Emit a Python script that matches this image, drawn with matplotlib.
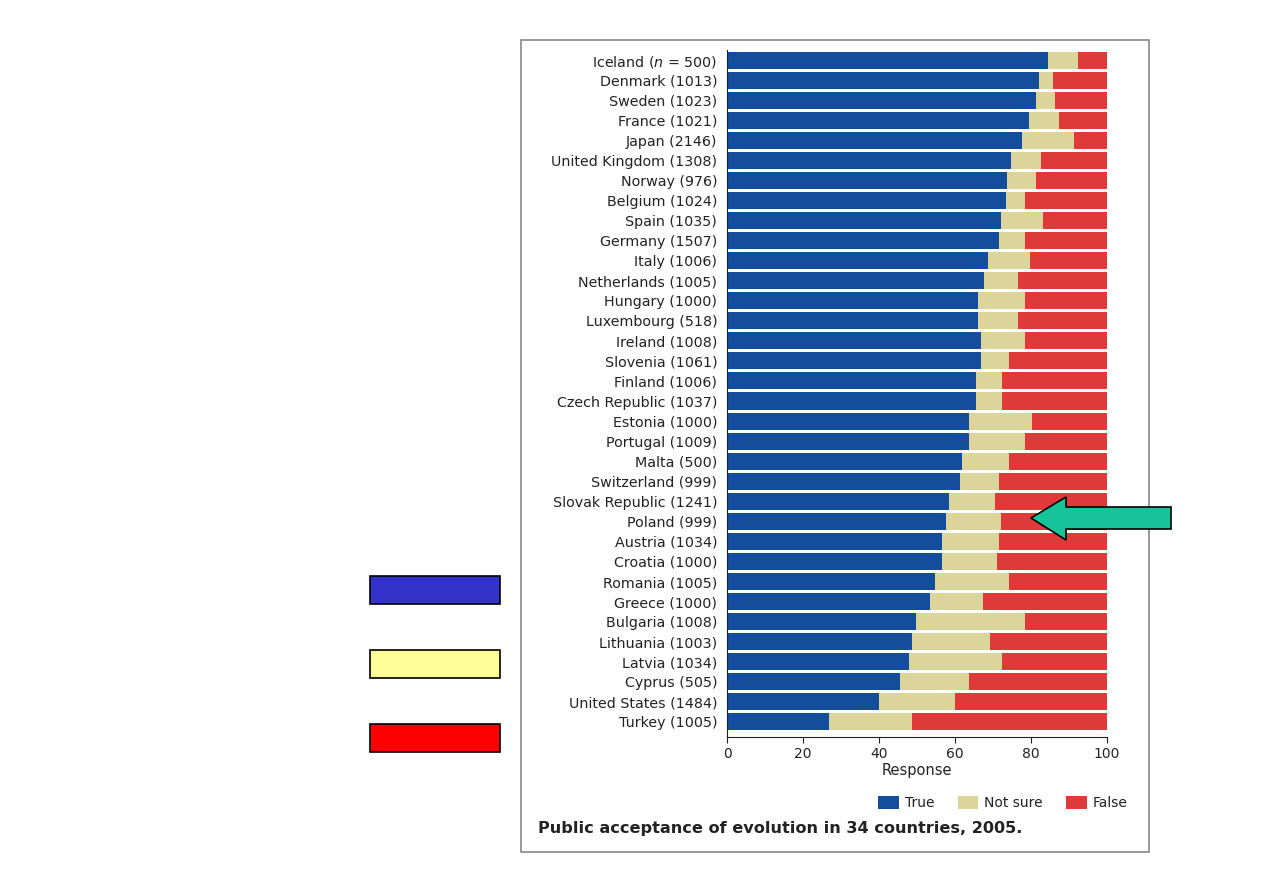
import matplotlib.pyplot as plt
import numpy as np
from matplotlib.patches import Rectangle, Polygon

countries = ['Iceland ($n$ = 500)', 'Denmark (1013)', 'Sweden (1023)', 'France (1021)',
             'Japan (2146)', 'United Kingdom (1308)', 'Norway (976)', 'Belgium (1024)',
             'Spain (1035)', 'Germany (1507)', 'Italy (1006)', 'Netherlands (1005)',
             'Hungary (1000)', 'Luxembourg (518)', 'Ireland (1008)', 'Slovenia (1061)',
             'Finland (1006)', 'Czech Republic (1037)', 'Estonia (1000)', 'Portugal (1009)',
             'Malta (500)', 'Switzerland (999)', 'Slovak Republic (1241)', 'Poland (999)',
             'Austria (1034)', 'Croatia (1000)', 'Romania (1005)', 'Greece (1000)',
             'Bulgaria (1008)', 'Lithuania (1003)', 'Latvia (1034)', 'Cyprus (505)',
             'United States (1484)', 'Turkey (1005)']

true_pct = [84.4, 82.1, 81.4, 79.6, 77.7, 74.8, 73.7, 73.5, 72.2, 71.7, 68.6, 67.5,
            66.1, 66.1, 66.8, 66.8, 65.5, 65.5, 63.8, 63.8, 61.9, 61.4, 58.3, 57.7,
            56.6, 56.6, 54.7, 53.4, 49.7, 48.7, 47.9, 45.5, 40.0, 26.8]
not_sure_pct = [7.9, 3.6, 4.8, 7.7, 13.5, 7.7, 7.6, 4.8, 10.9, 6.6, 11.1, 9.0,
                12.2, 10.4, 11.5, 7.3, 6.8, 6.8, 16.4, 14.5, 12.2, 10.2, 12.1, 14.5,
                15.0, 14.5, 19.4, 14.0, 28.8, 20.6, 24.4, 18.3, 20.1, 21.9]
false_pct = [100 - t - n for t, n in zip(true_pct, not_sure_pct)]

c_true = '#134d9c'
c_ns = '#dbd49b'
c_false = '#de3a3a'

W, H = 1263, 893
fig = plt.figure(figsize=(W / 100, H / 100), dpi=100)
plt.rcParams['font.family'] = ['DejaVu Sans']

# grey frame of the figure panel
fig.patches.append(Rectangle((521 / W, 1 - 852 / H), 628 / W, 812 / H, transform=fig.transFigure,
                             fill=False, edgecolor='#888888', lw=1.2))

ax = fig.add_axes([727 / W, 1 - 737 / H, 380 / W, 687 / H])
y = np.arange(len(countries))
left2 = [t + n for t, n in zip(true_pct, not_sure_pct)]
ax.barh(y, true_pct, height=0.85, color=c_true, label='True')
ax.barh(y, not_sure_pct, left=true_pct, height=0.85, color=c_ns, label='Not sure')
ax.barh(y, false_pct, left=left2, height=0.85, color=c_false, label='False')

ax.set_xlim(0, 100)
ax.set_ylim(33.75, -0.5)
ax.set_yticks(y)
ax.set_yticklabels(countries, fontsize=10.3, color='#222222')
ax.tick_params(axis='y', length=0, pad=7)
ax.set_xticks([0, 20, 40, 60, 80, 100])
ax.tick_params(axis='x', labelsize=10, length=4, color='#222222', labelcolor='#222222')
ax.set_xlabel('Response', fontsize=10.5, color='#222222', labelpad=1)
for s in ['top', 'right']:
    ax.spines[s].set_visible(False)
ax.spines['left'].set_color('#222222')
ax.spines['bottom'].set_color('#222222')

leg = fig.legend(loc='center right', bbox_to_anchor=(1140 / W, 1 - 803 / H), ncol=3, frameon=False,
                 fontsize=10, handlelength=1.5, handleheight=1.1, columnspacing=1.7, handletextpad=0.4)
for t in leg.get_texts():
    t.set_color('#222222')

fig.text(538 / W, 1 - 828 / H, 'Public acceptance of evolution in 34 countries, 2005.',
         fontsize=11.6, fontweight='bold', color='#222222', va='center', ha='left')

# colour key boxes on the left
for yy, col in zip([576, 650, 724], ['#3333cc', '#ffff99', '#ff0000']):
    fig.patches.append(Rectangle((370 / W, 1 - (yy + 28) / H), 130 / W, 28 / H,
                                 transform=fig.transFigure, facecolor=col, edgecolor='black', lw=1.2))

# green arrow pointing at Poland
arrow_px = [(1031, 518), (1066, 497), (1066, 507), (1171, 507), (1171, 529), (1066, 529), (1066, 540)]
arrow = [(px / W, 1 - py / H) for px, py in arrow_px]
fig.patches.append(Polygon(arrow, closed=True, transform=fig.transFigure,
                           facecolor='#17c499', edgecolor='black', lw=1.2))

fig.savefig('out.png', dpi=100)
